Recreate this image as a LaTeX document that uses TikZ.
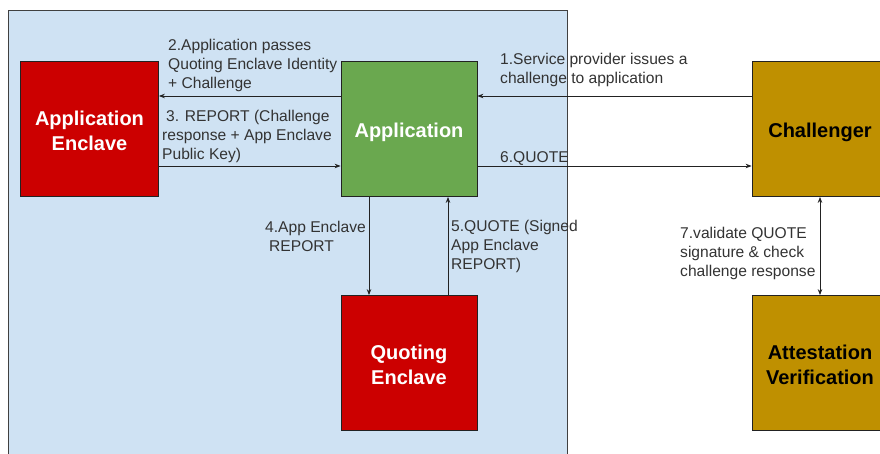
\documentclass[tikz,border=0pt]{standalone}
\usepackage{fontspec}
\setmainfont{Liberation Sans}
\usetikzlibrary{arrows.meta}
\definecolor{bgblue}{HTML}{CFE2F3}
\definecolor{encred}{HTML}{CC0000}
\definecolor{appgreen}{HTML}{6AA84F}
\definecolor{gold}{HTML}{BF9000}
\definecolor{lin}{HTML}{222222}
\newcommand\boxtxt[1]{\begin{tabular}[t]{@{}c@{}}#1\end{tabular}}
\begin{document}
\begin{tikzpicture}[x=1pt,y=-1pt,
  box/.style={draw=lin,line width=0.8pt,minimum width=136pt,minimum height=135pt,inner sep=0pt,
    font=\fontsize{20}{25}\selectfont\bfseries},
  oneline/.style={text height=20pt,text depth=3.6pt},
  twoline/.style={text height=17.5pt,text depth=25.1pt},
  arr/.style={draw=lin,line width=0.8pt,-{Stealth[length=6pt,width=4.5pt]}},
  lbl/.style={anchor=north west,inner sep=0pt,align=left,text=black!80,font=\fontsize{15.6}{19}\selectfont}]
\useasboundingbox (0,0) rectangle (880,453);
\clip (0,0) rectangle (880,453);
\fill[white] (0,0) rectangle (880,453);
\filldraw[fill=bgblue,draw=black!75,line width=0.8pt] (8.5,10) rectangle (567,470);
\node[box,twoline,fill=encred,text=white,minimum width=138pt] (ae) at (89.5,129) {\boxtxt{Application\\Enclave}};
\node[box,oneline,fill=appgreen,text=white] (app) at (409,129) {\boxtxt{Application}};
\node[box,oneline,fill=gold,text=black] (chal) at (820,129) {\boxtxt{Challenger}};
\node[box,twoline,fill=encred,text=white] (qe) at (409,363) {\boxtxt{Quoting\\Enclave}};
\node[box,twoline,fill=gold,text=black] (av) at (820,363) {\boxtxt{Attestation\\Verification}};
\draw[arr] ([yshift=33pt]chal.west) -- ([yshift=33pt]app.east);
\draw[arr] ([yshift=33pt]app.west) -- ([yshift=33pt]ae.east);
\draw[arr] ([yshift=-37pt]ae.east) -- ([yshift=-37pt]app.west);
\draw[arr] ([yshift=-37pt]app.east) -- ([yshift=-37pt]chal.west);
\draw[arr] ([xshift=-40pt]app.south) -- ([xshift=-40pt]qe.north);
\draw[arr] ([xshift=39pt]qe.north) -- ([xshift=39pt]app.south);
\draw[arr,{Stealth[length=6pt,width=4.5pt]}-{Stealth[length=6pt,width=4.5pt]}] (chal.south) -- (av.north);
\node[lbl] (l2) at (168,39) {2.Application passes\\Quoting Enclave Identity\\+ Challenge};
\node[lbl] (l3) at (162,110) {\hspace{4pt}3. REPORT (Challenge\\response + App Enclave\\Public Key)};
\node[lbl] (l1) at (500,53) {1.Service provider issues a\\challenge to application};
\node[lbl] (l6) at (500,151) {6.QUOTE};
\node[lbl] (l4) at (265,221) {4.App Enclave\\\hspace{4pt}REPORT};
\node[lbl] (l5) at (451,220) {5.QUOTE (Signed\\App Enclave\\REPORT)};
\node[lbl] (l7) at (680,227) {7.validate QUOTE\\signature \& check\\challenge response};
\end{tikzpicture}
\end{document}
